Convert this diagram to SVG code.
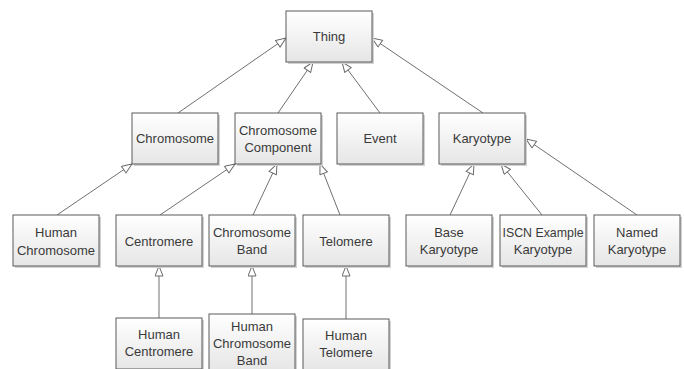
<svg xmlns="http://www.w3.org/2000/svg" width="684" height="369" viewBox="0 0 684 369">
<style>
.box{fill:url(#g);stroke:#5a5a5a;stroke-width:1}
.sh{fill:#d2d2d2}
.t{font-family:"Liberation Sans",Arial,sans-serif;font-size:13px;fill:#3a3a3a;text-anchor:middle}
.c{stroke:#707070;stroke-width:1;fill:none;marker-end:url(#tri)}
</style>
<defs>
<linearGradient id="g" x1="0" y1="0" x2="0" y2="1">
<stop offset="0" stop-color="#ffffff"/>
<stop offset="1" stop-color="#e6e6e6"/>
</linearGradient>
<marker id="tri" markerWidth="12" markerHeight="10" refX="11" refY="4.5" orient="auto" markerUnits="userSpaceOnUse">
<path d="M1,0.5 L11,4.5 L1,8.5 Z" fill="#ffffff" stroke="#6a6a6a" stroke-width="1"/>
</marker>
</defs>
<rect width="684" height="369" fill="#ffffff"/>
<g id="connectors">
<line class="c" x1="178" y1="113" x2="286" y2="38"/>
<line class="c" x1="278" y1="113" x2="313" y2="62"/>
<line class="c" x1="380" y1="113" x2="342" y2="62"/>
<line class="c" x1="483" y1="113" x2="372" y2="38"/>
<line class="c" x1="57" y1="215" x2="132" y2="164"/>
<line class="c" x1="160" y1="215" x2="235" y2="164"/>
<line class="c" x1="253" y1="215" x2="277" y2="164"/>
<line class="c" x1="340" y1="215" x2="320" y2="164"/>
<line class="c" x1="450" y1="215" x2="474" y2="164"/>
<line class="c" x1="542" y1="215" x2="501" y2="164"/>
<line class="c" x1="637" y1="215" x2="526" y2="139"/>
<line class="c" x1="159" y1="318" x2="159" y2="266"/>
<line class="c" x1="252" y1="314" x2="252" y2="266"/>
<line class="c" x1="346" y1="319" x2="346" y2="266"/>
</g>
<g id="thing"><rect class="sh" x="288" y="13" width="86" height="51"/><rect class="box" x="286" y="11" width="86" height="51"/><text class="t" x="329" y="41">Thing</text></g>
<g id="chromosome"><rect class="sh" x="134" y="115" width="86" height="51"/><rect class="box" x="132" y="113" width="86" height="51"/><text class="t" x="175" y="143">Chromosome</text></g>
<g id="chromosome-component"><rect class="sh" x="237" y="115" width="86" height="51"/><rect class="box" x="235" y="113" width="86" height="51"/><text class="t" x="278" y="135">Chromosome</text><text class="t" x="278" y="152">Component</text></g>
<g id="event"><rect class="sh" x="339" y="115" width="86" height="51"/><rect class="box" x="337" y="113" width="86" height="51"/><text class="t" x="380" y="143">Event</text></g>
<g id="karyotype"><rect class="sh" x="441" y="115" width="86" height="51"/><rect class="box" x="439" y="113" width="86" height="51"/><text class="t" x="482" y="143">Karyotype</text></g>
<g id="human-chromosome"><rect class="sh" x="15" y="217" width="86" height="51"/><rect class="box" x="13" y="215" width="86" height="51"/><text class="t" x="56" y="237">Human</text><text class="t" x="56" y="255">Chromosome</text></g>
<g id="centromere"><rect class="sh" x="118" y="217" width="86" height="51"/><rect class="box" x="116" y="215" width="86" height="51"/><text class="t" x="159" y="246">Centromere</text></g>
<g id="chromosome-band"><rect class="sh" x="211" y="217" width="86" height="51"/><rect class="box" x="209" y="215" width="86" height="51"/><text class="t" x="252" y="237">Chromosome</text><text class="t" x="252" y="254">Band</text></g>
<g id="telomere"><rect class="sh" x="305" y="217" width="86" height="51"/><rect class="box" x="303" y="215" width="86" height="51"/><text class="t" x="346" y="246">Telomere</text></g>
<g id="base-karyotype"><rect class="sh" x="408" y="217" width="86" height="51"/><rect class="box" x="406" y="215" width="86" height="51"/><text class="t" x="449" y="237">Base</text><text class="t" x="449" y="254">Karyotype</text></g>
<g id="iscn-example-karyotype"><rect class="sh" x="502" y="217" width="86" height="51"/><rect class="box" x="500" y="215" width="86" height="51"/><text class="t" x="543" y="237" textLength="81" lengthAdjust="spacingAndGlyphs">ISCN Example</text><text class="t" x="543" y="254">Karyotype</text></g>
<g id="named-karyotype"><rect class="sh" x="596" y="217" width="86" height="51"/><rect class="box" x="594" y="215" width="86" height="51"/><text class="t" x="637" y="237">Named</text><text class="t" x="637" y="254">Karyotype</text></g>
<g id="human-centromere"><rect class="sh" x="118" y="320" width="86" height="51"/><rect class="box" x="116" y="318" width="86" height="51"/><text class="t" x="159" y="339">Human</text><text class="t" x="159" y="356">Centromere</text></g>
<g id="human-chromosome-band"><rect class="sh" x="211" y="316" width="86" height="55"/><rect class="box" x="209" y="314" width="86" height="56"/><text class="t" x="252" y="331">Human</text><text class="t" x="252" y="348">Chromosome</text><text class="t" x="252" y="365">Band</text></g>
<g id="human-telomere"><rect class="sh" x="305" y="321" width="86" height="51"/><rect class="box" x="303" y="319" width="86" height="51"/><text class="t" x="346" y="340">Human</text><text class="t" x="346" y="357">Telomere</text></g>
</svg>
